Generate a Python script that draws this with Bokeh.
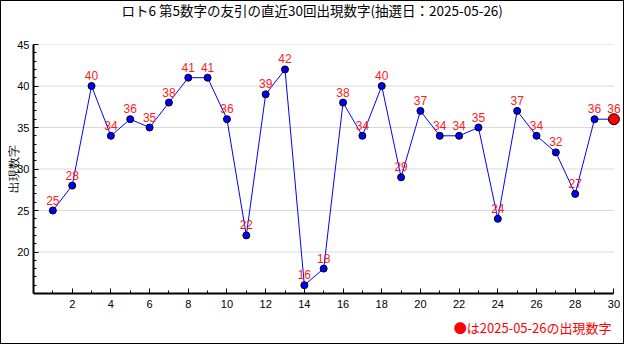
from bokeh.plotting import figure
from bokeh.models import Range1d, FixedTicker, LabelSet, ColumnDataSource, Title
from bokeh.core.properties import value
from bokeh.embed import file_html
from bokeh.resources import INLINE

draws = list(range(1, 31))
values = [25, 28, 40, 34, 36, 35, 38, 41, 41, 36, 22, 39, 42, 16, 18,
          38, 34, 40, 29, 37, 34, 34, 35, 24, 37, 34, 32, 27, 36, 36]
x_ticks = list(range(2, 31, 2))
y_ticks = [20, 25, 30, 35, 40, 45]
title_text = "ロト6 第5数字の友引の直近30回出現数字(抽選日：2025-05-26)"
y_label_text = "出現数字"
legend_text = "●は2025-05-26の出現数字"

JP = "Noto Sans CJK JP"
SANS = "Liberation Sans"

p = figure(width=624, height=344, output_backend="svg", toolbar_location=None,
           x_range=Range1d(0, 30.6), y_range=Range1d(15, 45),
           min_border_left=32, min_border_right=0,
           min_border_top=43, min_border_bottom=52)
p.styles = {"border": "1px solid black", "box-sizing": "border-box"}
p.outline_line_color = None
p.background_fill_color = "white"
p.border_fill_color = "white"
p.title.text = ""

# spacer (closest to the frame) then the real title on top of it
spacer = Title(text=" ", text_font=SANS, text_font_size="10px", standoff=17)
p.add_layout(spacer, "above")
main_title = Title(text=title_text, align="left", offset=88, vertical_align="top",
                   standoff=-15, text_font=JP, text_font_size="13.5px",
                   text_font_style="normal", text_color="black")
p.add_layout(main_title, "above")

p.xgrid.grid_line_color = None
p.ygrid.grid_line_color = None
# horizontal grid lines limited to the axis span
p.segment(x0=[0] * len(y_ticks), x1=[30] * len(y_ticks), y0=y_ticks, y1=y_ticks,
          line_color="#d9d9d9", line_width=1)

p.xaxis.ticker = FixedTicker(ticks=x_ticks, minor_ticks=list(range(1, 31)))
p.yaxis.ticker = FixedTicker(ticks=y_ticks, minor_ticks=list(range(16, 45)))
p.xaxis.bounds = (0, 30)
for ax in (p.xaxis[0], p.yaxis[0]):
    ax.axis_line_color = "black"
    ax.axis_line_width = 2
    ax.major_tick_in = 5
    ax.major_tick_out = 0
    ax.minor_tick_in = 3
    ax.minor_tick_out = 0
    ax.major_tick_line_color = "black"
    ax.minor_tick_line_color = "black"
    ax.major_label_text_font = SANS
    ax.major_label_text_font_size = "11px"
    ax.major_label_text_color = "black"
p.yaxis.major_label_standoff = 4
p.xaxis.major_label_standoff = 6
p.yaxis.axis_label = y_label_text
p.yaxis.axis_label_text_font = SANS
p.yaxis.axis_label_text_font_size = "11.5px"
p.yaxis.axis_label_text_font_style = "normal"
p.yaxis.axis_label_text_color = "black"
p.yaxis.axis_label_standoff = -6

src = ColumnDataSource(dict(x=draws, y=values, t=[str(v) for v in values]))
p.line("x", "y", source=src, line_color="#0000ff", line_width=1)
p.scatter(draws[:-1], values[:-1], size=7, fill_color="#0000ff",
          line_color="black", line_width=1)
p.scatter([draws[-1]], [values[-1]], size=11, fill_color="#ff0000",
          line_color="black", line_width=1)

labels = LabelSet(x="x", y="y", text="t", source=src, y_offset=6,
                  text_align="center", text_baseline="bottom",
                  text_color="#ff1a1a", text_font=value(SANS),
                  text_font_size="12px")
p.add_layout(labels)

legend_title = Title(text=legend_text, align="right", text_font=JP,
                     text_font_size="13px", text_font_style="normal",
                     text_color="#ff0000", offset=14)
p.add_layout(legend_title, "below")

open("out.html", "w").write(file_html(p, INLINE))
